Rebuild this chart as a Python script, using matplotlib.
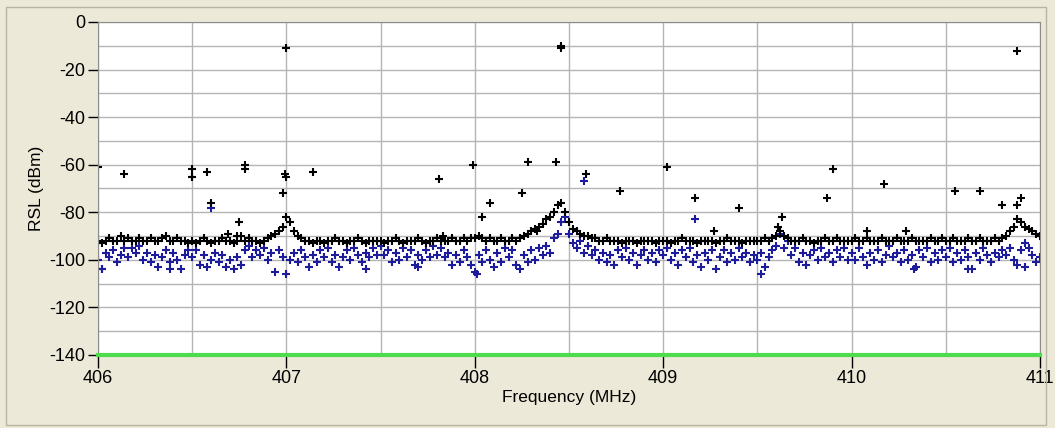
import numpy as np
import matplotlib
matplotlib.use("Agg")
import matplotlib.pyplot as plt
from matplotlib.patches import Rectangle

# sweep: 406.00 .. 411.00 MHz, 0.02 MHz steps
freq = np.round(np.arange(406.0, 411.0001, 0.02), 2)

# black trace (dBm), 25 points per 0.5 MHz
rsl_black = [
    -92, -93, -92, -91, -92, -92, -90, -92, -91, -92, -92, -91, -92, -92, -91, -92, -92, -91, -90, -92, -92, -91, -92, -92, -93,
    -92, -93, -92, -91, -92, -93, -92, -92, -91, -92, -92, -93, -92, -90, -92, -91, -92, -92, -93, -92, -91, -90, -89, -88, -86,
    -82, -84, -88, -90, -91, -92, -92, -93, -92, -92, -93, -92, -92, -91, -92, -92, -93, -92, -92, -91, -92, -93, -92, -92, -92,
    -92, -93, -92, -92, -91, -92, -93, -92, -92, -92, -91, -92, -93, -92, -92, -91, -92, -92, -92, -91, -92, -92, -91, -92, -91,
    -91, -90, -91, -92, -91, -92, -92, -91, -92, -92, -91, -92, -91, -90, -89, -88, -87, -86, -85, -83, -82, -80, -77, -76, -80,
    -84, -87, -88, -89, -90, -90, -91, -91, -92, -92, -91, -92, -92, -92, -93, -92, -92, -92, -93, -92, -92, -92, -92, -93, -92,
    -92, -92, -93, -92, -92, -91, -92, -92, -92, -93, -92, -92, -92, -92, -93, -92, -92, -91, -92, -92, -92, -93, -92, -92, -92,
    -92, -92, -91, -92, -91, -90, -88, -90, -91, -92, -92, -92, -91, -92, -92, -93, -92, -92, -91, -92, -92, -91, -92, -92, -92,
    -92, -91, -92, -92, -91, -92, -92, -92, -91, -92, -92, -92, -91, -92, -92, -92, -91, -92, -92, -92, -92, -91, -92, -92, -91,
    -92, -92, -91, -92, -92, -92, -91, -92, -92, -91, -92, -92, -92, -91, -92, -91, -90, -88, -86, -83, -84, -86, -87, -88, -89,
    -90,
]

# blue trace (dBm)
rsl_blue = [
    -100, -104, -97, -99, -96, -101, -98, -95, -99, -95, -97, -94, -100, -97, -101, -98, -103, -99, -96, -101, -97, -100, -104, -98, -96,
    -99, -96, -102, -98, -103, -100, -97, -101, -98, -103, -100, -104, -99, -102, -96, -94, -99, -96, -98, -95, -100, -97, -105, -96, -99,
    -106, -100, -97, -101, -96, -99, -103, -98, -101, -96, -99, -95, -101, -98, -103, -99, -96, -100, -95, -98, -101, -97, -99, -95, -98,
    -94, -98, -96, -101, -97, -100, -95, -99, -96, -102, -98, -100, -96, -99, -94, -98, -95, -99, -97, -102, -98, -101, -96, -99, -102,
    -105, -98, -101, -96, -100, -103, -97, -101, -95, -99, -96, -102, -104, -98, -101, -96, -100, -95, -98, -94, -97, -91, -89, -84, -82,
    -89, -93, -95, -92, -97, -94, -98, -96, -100, -97, -101, -98, -102, -96, -99, -95, -100, -97, -102, -98, -96, -100, -97, -101, -96,
    -98, -95, -100, -97, -102, -96, -99, -95, -101, -98, -103, -97, -100, -96, -104, -99, -96, -101, -97, -100, -95, -99, -97, -101, -98,
    -100, -97, -103, -99, -96, -94, -89, -95, -92, -98, -95, -101, -97, -102, -98, -96, -100, -95, -99, -97, -101, -96, -99, -95, -100,
    -97, -100, -95, -99, -102, -97, -100, -96, -101, -98, -94, -99, -97, -101, -96, -100, -98, -103, -96, -99, -95, -101, -97, -100, -96,
    -99, -95, -101, -97, -100, -96, -99, -104, -97, -100, -95, -98, -101, -97, -99, -96, -98, -95, -100, -102, -96, -93, -95, -98, -101,
    -99,
]

# isolated readings off the sweep grid
spur_black_f = [406.0, 406.14, 406.5, 406.5, 406.58, 406.6, 406.69, 406.74, 406.75, 406.78, 406.78, 406.98, 406.99,
                407.0, 407.0, 407.14, 407.81, 407.83, 407.99, 408.04, 408.08, 408.25, 408.28, 408.33, 408.43,
                408.46, 408.46, 408.59, 408.77, 409.02, 409.17, 409.27, 409.4, 409.61, 409.63, 409.87, 409.9,
                410.08, 410.17, 410.29, 410.55, 410.68, 410.8, 410.88, 410.9, 410.88]
spur_black_v = [-61, -64, -62, -65, -63, -76, -89, -90, -84, -60, -62, -72, -64,
                -11, -65, -63, -66, -90, -60, -82, -76, -72, -59, -88, -59,
                -10, -11, -64, -71, -61, -74, -88, -78, -86, -82, -74, -62,
                -88, -68, -88, -71, -71, -77, -77, -74, -12]
spur_blue_f = [406.02, 406.38, 406.5, 406.6, 407.42, 407.7, 408.01, 408.58, 409.17, 409.52, 410.33, 410.62, 410.92]
spur_blue_v = [-104, -104, -65, -78, -104, -103, -106, -67, -83, -106, -104, -104, -103]

y_ticks = [0, -20, -40, -60, -80, -100, -120, -140]
x_ticks = [406, 407, 408, 409, 410, 411]

bg = '#ECE9D8'
black = '#000000'
blue = '#1c1c9c'

plt.rcParams['font.family'] = ['Liberation Sans', 'DejaVu Sans']
plt.rcParams['axes.unicode_minus'] = False

fig = plt.figure(figsize=(10.55, 4.28), dpi=100, facecolor=bg)
fig.patches.append(Rectangle((0.006, 0.008), 0.985, 0.975, transform=fig.transFigure,
                             fill=False, edgecolor='#b8b4a4', linewidth=1.0))
ax = fig.add_axes([0.0929, 0.1706, 0.8929, 0.778])
ax.set_facecolor('white')

mk = dict(linestyle='none', marker='+', markersize=6, markeredgewidth=1.5)
ax.plot(freq, rsl_blue, color=blue, **mk)
ax.plot(spur_blue_f, spur_blue_v, color=blue, **mk)
ax.plot(freq, rsl_black, color=black, **mk)
ax.plot(spur_black_f, spur_black_v, color=black, **mk)

ax.axhline(-140, color='#4cdc4c', linewidth=3, zorder=5, clip_on=False)

ax.set_xlim(406, 411)
ax.set_ylim(-140, 0)
ax.set_yticks(y_ticks)
ax.set_xticks(x_ticks)
ax.set_xticks(np.arange(406, 411.01, 0.5), minor=True)
ax.set_yticks(np.arange(-140, 0.1, 10), minor=True)
ax.grid(which='both', color='#b4b4b4', linewidth=1.0)
ax.set_axisbelow(True)
ax.tick_params(axis='y', which='major', direction='out', length=7, width=1, labelsize=13, pad=2)
ax.tick_params(axis='x', which='major', direction='out', length=9, width=1, labelsize=13, pad=2)
ax.tick_params(which='minor', length=0)
for s in ax.spines.values():
    s.set_color('#8c8c8c')

ax.set_xlabel('Frequency (MHz)', fontsize=12.5, labelpad=2)
ax.set_ylabel('RSL (dBm)', fontsize=12.5, labelpad=4)

plt.savefig('out.png', dpi=100, facecolor=bg)
